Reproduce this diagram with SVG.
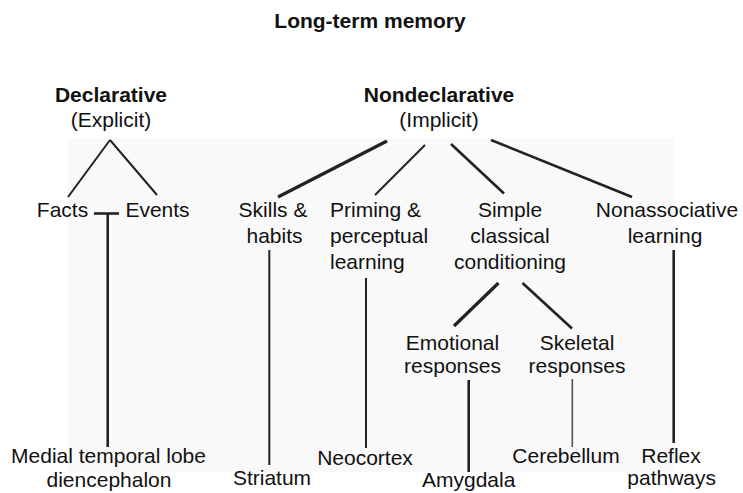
<svg xmlns="http://www.w3.org/2000/svg" width="743" height="493" viewBox="0 0 743 493">
<style>
text{font-family:"Liberation Sans",Arial,Helvetica,sans-serif;font-size:21px;fill:#111;text-anchor:middle}
.b{font-weight:bold}
.l{text-anchor:start}
line{stroke:#222;stroke-linecap:butt}
.w1{stroke-width:1.6;stroke:#555}
.w2{stroke-width:2}
.w3{stroke-width:2.6}
.w4{stroke-width:3.2}
</style>
<rect x="68" y="138" width="606" height="334" fill="#f9f9f9"/>
<g id="title"><text class="b" x="370" y="28">Long-term memory</text></g>
<g id="declarative"><text class="b" x="111" y="101.5">Declarative</text><text x="111" y="127">(Explicit)</text></g>
<g id="nondeclarative"><text class="b" x="439" y="101.5">Nondeclarative</text><text x="439" y="127">(Implicit)</text></g>
<g id="facts"><text x="62.5" y="217">Facts</text></g>
<g id="events"><text x="157.5" y="217">Events</text></g>
<g id="skills"><text x="273" y="217">Skills &amp;</text><text x="274.5" y="243">habits</text></g>
<g id="priming"><text class="l" x="330" y="217">Priming &amp;</text><text class="l" x="330" y="243">perceptual</text><text class="l" x="330" y="269">learning</text></g>
<g id="simple"><text x="510" y="217">Simple</text><text x="510" y="243">classical</text><text x="510" y="269">conditioning</text></g>
<g id="nonassociative"><text x="667" y="217">Nonassociative</text><text x="665" y="243">learning</text></g>
<g id="emotional"><text x="452.5" y="350">Emotional</text><text x="452.5" y="373">responses</text></g>
<g id="skeletal"><text x="577" y="350">Skeletal</text><text x="577" y="373">responses</text></g>
<g id="medial"><text x="108.5" y="463">Medial temporal lobe</text><text x="109" y="487">diencephalon</text></g>
<g id="striatum"><text x="272" y="485">Striatum</text></g>
<g id="neocortex"><text x="365" y="465">Neocortex</text></g>
<g id="amygdala"><text x="468.7" y="487">Amygdala</text></g>
<g id="cerebellum"><text x="566" y="463">Cerebellum</text></g>
<g id="reflex"><text x="671" y="463">Reflex</text><text x="671.7" y="485">pathways</text></g>
<g id="connectors">
<line class="w2" x1="110" y1="140" x2="68" y2="197"/>
<line class="w2" x1="110" y1="140" x2="157" y2="195"/>
<line class="w3" x1="94" y1="213.5" x2="119" y2="213.5"/>
<line class="w3" x1="107.7" y1="213.5" x2="107.7" y2="447"/>
<line class="w4" x1="387" y1="141" x2="278" y2="197"/>
<line class="w2" x1="425" y1="145" x2="375" y2="195"/>
<line class="w3" x1="451" y1="144" x2="504" y2="193.5"/>
<line class="w3" x1="491" y1="140" x2="632" y2="197"/>
<line class="w2" x1="269.3" y1="250" x2="269.3" y2="465"/>
<line class="w2" x1="366" y1="278" x2="366" y2="448"/>
<line class="w4" x1="498.5" y1="283" x2="454" y2="326"/>
<line class="w3" x1="522.5" y1="283" x2="572" y2="328.5"/>
<line class="w3" x1="468.7" y1="380" x2="468.7" y2="472"/>
<line class="w1" x1="572.3" y1="379" x2="572.3" y2="447"/>
<line class="w3" x1="673.7" y1="250" x2="673.7" y2="443"/>
</g>
</svg>
